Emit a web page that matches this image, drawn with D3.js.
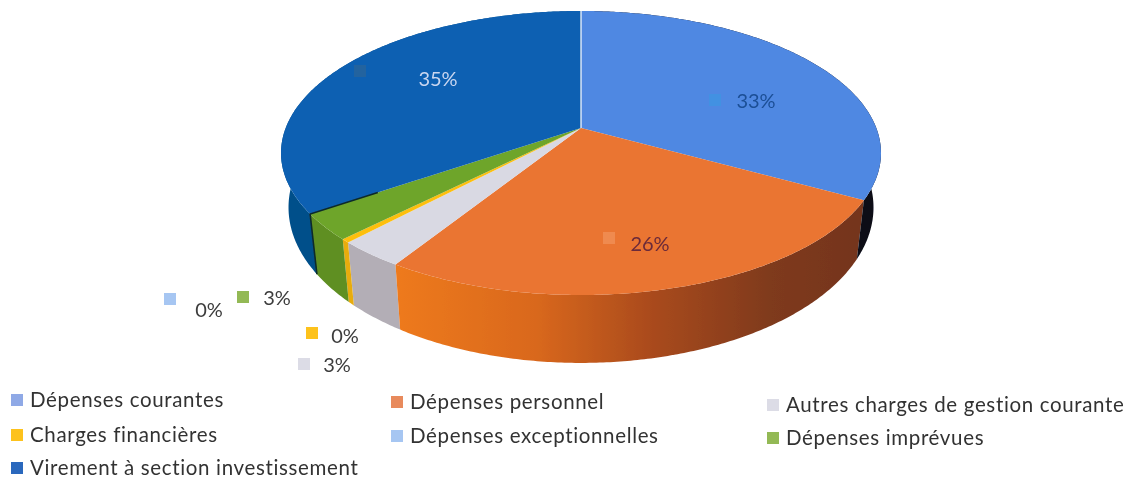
<!DOCTYPE html>
<html lang="fr">
<head>
<meta charset="utf-8">
<title>Dépenses</title>
<script src="https://cdn.jsdelivr.net/npm/d3@7"></script>
<style>
    html, body { margin: 0; padding: 0; background: #fff; }
    text { font-family: Lato, "Open Sans", sans-serif; }
</style>
</head>
<body>
<div id="chart"></div>
<script>
// values (they sum to 100)
const categories = [
    'Dépenses courantes',
    'Dépenses personnel',
    'Autres charges de gestion courante',
    'Charges financières',
    'Dépenses exceptionnelles',
    'Dépenses imprévues',
    'Virement à section investissement'
];
const values = [32.98, 26.0, 3.1, 0.4, 0.0, 3.0, 34.52];

const topColors = ['#5088e2', '#ea7430', '#d9d9e3', '#fdbf10', '#9dc0ee', '#6ea52a', '#0d60b2'];
const wallColors = ['#0b0d16', 'url(#wallOrange)', '#b3aeb6', '#e8ac10', '#9dc0ee', '#5f8f24', '#06508a'];
const keyColors = ['#8fa9e6', '#e88a5c', '#dcdce6', '#fdc21a', '#a6c6f2', '#93b954', '#2a68bd'];
const chartKeyColors = ['#4391e2', '#ef8a50', '#dcdce6', '#fdc21a', '#a6c6f2', '#93b954', '#24639f'];
const labelColors = ['#1c4f96', '#6b2a3a', '#3c3c3c', '#3c3c3c', '#3c3c3c', '#3c3c3c', '#c9d6f0'];

// label and key positions, in category order
const labelPos = [[756, 101], [650, 244], [337, 365], [345, 336], [209, 310], [277, 298], [438, 79]];
const keyPos = [[715, 100], [609, 238], [304, 364], [312, 333], [170, 299], [243, 297], [360, 71]];
const legendPos = [[10, 400], [390, 402], [766, 405], [10, 435], [390, 436], [766, 438], [10, 468]];

const width = 1133, height = 482;

const svg = d3.select('#chart').append('svg')
    .attr('width', width)
    .attr('height', height)
    .style('display', 'block');

const defs = svg.append('defs');

// soft look of the scanned page
defs.append('filter').attr('id', 'soft')
    .append('feGaussianBlur').attr('stdDeviation', 0.7);

// perspective of the pie plane: the front of the disc comes closer
const cx = 581, cy = 128, k = 0.176;
const a = 137.6, b = 295.3;

function project(angle) {
    const u = Math.sin(angle), v = -Math.cos(angle);
    const w = 1 - k * v;
    return [cx + b * u / w, cy + a * v / w];
}

// lower rim of the disc, derived from the upper one
function lower(p) {
    return [cx + 0.975 * (p[0] - cx), 1.095 * p[1] + 39.9];
}

function arcPoints(start, end) {
    const n = Math.max(2, Math.ceil((end - start) / 0.01));
    return d3.range(n + 1).map(i => project(start + (end - start) * i / n));
}

const line = d3.line();

const pie = d3.pie().sort(null).value(d => d);
const slices = pie(values).map((d, i) => ({...d, i: i}));

const grad = defs.append('linearGradient')
    .attr('id', 'wallOrange')
    .attr('gradientUnits', 'userSpaceOnUse')
    .attr('x1', project(slices[2].startAngle)[0]).attr('x2', project(slices[1].startAngle)[0])
    .attr('y1', 0).attr('y2', 0);
// the gradient runs from the left end of the orange wall to the right one
[[0, '#ee7a1e'], [0.3, '#d9681f'], [0.55, '#a94a1e'], [0.8, '#7f3a1f'], [1, '#74341c']].forEach(s => {
    grad.append('stop').attr('offset', s[0]).attr('stop-color', s[1]);
});

const chart = svg.append('g').attr('filter', 'url(#soft)');

// outer walls first, the top faces cover whatever lies behind them
chart.selectAll('path.wall')
    .data(slices.slice().sort((p, q) => d3.descending(Math.abs(q.startAngle - Math.PI), Math.abs(p.startAngle - Math.PI))))
    .join('path')
    .attr('class', 'wall')
    .attr('fill', d => wallColors[d.i])
    .attr('d', d => {
        const rim = arcPoints(d.startAngle, d.endAngle);
        return line(rim.concat(rim.map(lower).reverse())) + 'Z';
    });

chart.selectAll('path.top')
    .data(slices)
    .join('path')
    .attr('class', 'top')
    .attr('fill', d => topColors[d.i])
    .attr('d', d => line([[cx, cy]].concat(arcPoints(d.startAngle, d.endAngle))) + 'Z');

// white seam at twelve o'clock
chart.append('path')
    .attr('d', line([[cx, cy], project(0)]))
    .attr('stroke', '#fff')
    .attr('stroke-width', 1.2);

// dark shadow edge along the last small slice
const shadowAngle = slices[6].startAngle;
const shadowEnd = project(shadowAngle);
chart.append('path')
    .attr('d', line([lower(shadowEnd), shadowEnd, [cx + 0.75 * (shadowEnd[0] - cx), cy + 0.75 * (shadowEnd[1] - cy)]]))
    .attr('fill', 'none')
    .attr('stroke', '#0b2a2a')
    .attr('stroke-width', 1.6);

// data label keys and texts
const pct = d3.format('.0f');

chart.selectAll('rect.labelKey')
    .data(slices)
    .join('rect')
    .attr('class', 'labelKey')
    .attr('x', d => keyPos[d.i][0] - 6)
    .attr('y', d => keyPos[d.i][1] - 6)
    .attr('width', 12)
    .attr('height', 12)
    .attr('fill', d => chartKeyColors[d.i]);

chart.selectAll('text.label')
    .data(slices)
    .join('text')
    .attr('class', 'label')
    .attr('x', d => labelPos[d.i][0])
    .attr('y', d => labelPos[d.i][1])
    .attr('text-anchor', 'middle')
    .attr('dy', '0.35em')
    .attr('font-size', 20)
    .attr('fill', d => labelColors[d.i])
    .text(d => pct(d.value) + '%');

// legend
const legend = chart.selectAll('g.legend')
    .data(categories)
    .join('g')
    .attr('class', 'legend')
    .attr('transform', (d, i) => `translate(${legendPos[i][0]}, ${legendPos[i][1]})`);

legend.append('rect')
    .attr('x', 1)
    .attr('y', -6)
    .attr('width', 12)
    .attr('height', 12)
    .attr('fill', (d, i) => keyColors[i]);

legend.append('text')
    .attr('x', 20)
    .attr('dy', '0.35em')
    .attr('font-size', 20.5)
    .attr('letter-spacing', 0.65)
    .attr('fill', '#333')
    .text(d => d);
</script>
</body>
</html>
